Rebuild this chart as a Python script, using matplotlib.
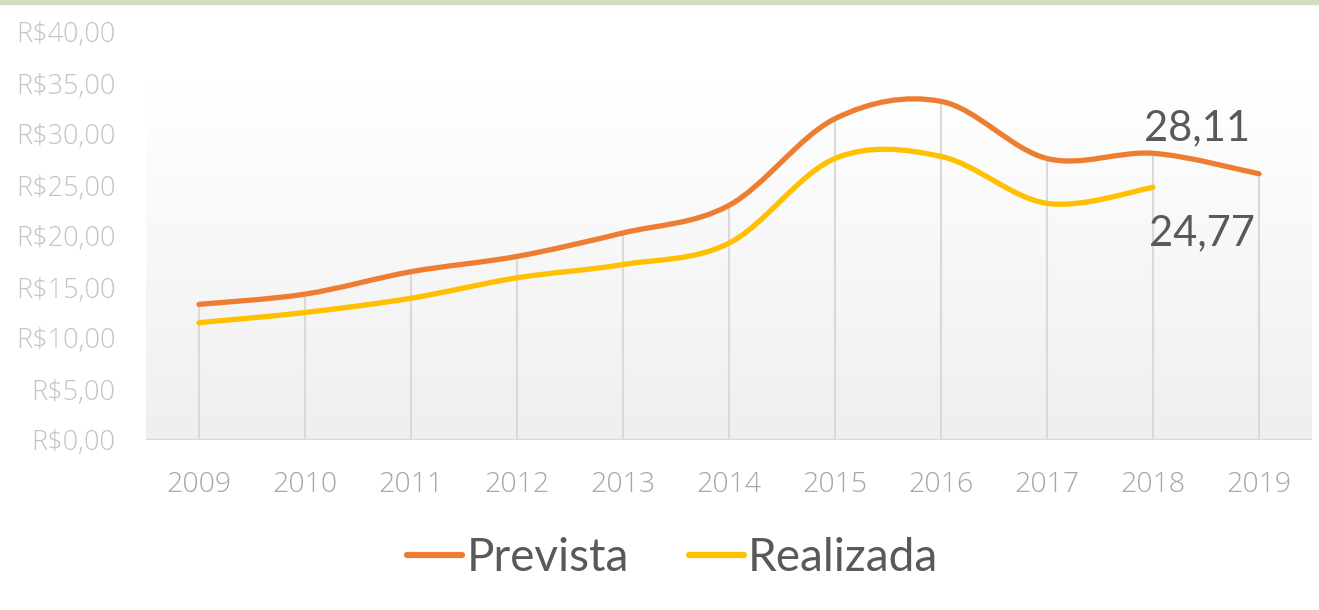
import numpy as np
import matplotlib.pyplot as plt
from matplotlib.path import Path
from matplotlib.patches import PathPatch, Rectangle
from matplotlib.lines import Line2D

anos = [2009, 2010, 2011, 2012, 2013, 2014, 2015, 2016, 2017, 2018, 2019]
prevista = [13.3, 14.3, 16.5, 18.0, 20.3, 23.0, 31.5, 33.2, 27.6, 28.11, 26.1]
anos_real = [2009, 2010, 2011, 2012, 2013, 2014, 2015, 2016, 2017, 2018]
realizada = [11.5, 12.5, 13.9, 15.9, 17.2, 19.3, 27.6, 27.8, 23.2, 24.77]
yticks = [0, 5, 10, 15, 20, 25, 30, 35, 40]

LARANJA = "#ED7D31"
AMARELO = "#FFC000"
FONTE = "Lato"
FONTE_EIXO = "Open Sans"


def smooth_path(xs, ys):
    # bezier parecido com a linha suavizada do excel (catmull-rom)
    pts = np.column_stack([xs, ys]).astype(float)
    n = len(pts)
    verts = [pts[0]]
    codes = [Path.MOVETO]
    for i in range(n - 1):
        p0 = pts[i - 1] if i > 0 else pts[i]
        p1 = pts[i]
        p2 = pts[i + 1]
        p3 = pts[i + 2] if i + 2 < n else pts[i + 1]
        c1 = p1 + (p2 - p0) / 6
        c2 = p2 - (p3 - p1) / 6
        verts += [c1, c2, p2]
        codes += [Path.CURVE4] * 3
    return Path(verts, codes)


fig = plt.figure(figsize=(13.19, 6.10), dpi=100)
fig.patches.append(Rectangle((0, 0.993), 1, 0.007, transform=fig.transFigure,
                             color="#D3DEBF", zorder=0))

ax = fig.add_axes([146 / 1319, 1 - 440 / 610, (1312 - 146) / 1319, (440 - 32) / 610])
ax.set_xlim(2008.5, 2019.5)
ax.set_ylim(0, 40)

# fundo com degradê da área de plotagem
grad = np.linspace(0, 1, 256).reshape(-1, 1)
ax.imshow(grad, extent=(2008.5, 2019.5, 0, 34.8), aspect="auto", origin="upper",
          cmap=plt.matplotlib.colors.LinearSegmentedColormap.from_list("g", ["#FFFFFF", "#EFEFEF"]),
          zorder=0)

# linhas de projeção
topo = [max(p, r) for p, r in zip(prevista, realizada + [0])]
ax.vlines(anos, 0, topo, colors="#D9D9D9", linewidth=1.5, zorder=1)
ax.axhline(0, color="#D9D9D9", linewidth=2.5, zorder=2)

ax.add_patch(PathPatch(smooth_path(anos, prevista), fill=False, edgecolor=LARANJA,
                       linewidth=3.8, capstyle="round", zorder=3))
ax.add_patch(PathPatch(smooth_path(anos_real, realizada), fill=False, edgecolor=AMARELO,
                       linewidth=3.8, capstyle="round", zorder=3))

ax.annotate("28,11", (anos[9], prevista[9]), xytext=(32, 18), textcoords="offset points",
            ha="center", va="center", fontsize=30, color="#595959", family=FONTE)
ax.annotate("24,77", (anos_real[-1], realizada[-1]), xytext=(35, -33), textcoords="offset points",
            ha="center", va="center", fontsize=30, color="#595959", family=FONTE)

for s in ax.spines.values():
    s.set_visible(False)
ax.set_xticks(anos)
ax.set_xticklabels([str(a) for a in anos], fontsize=20.5, color="#A6A6A6",
                   family=FONTE_EIXO, fontweight="light")
ax.set_yticks(yticks)
ax.set_yticklabels(["R$%d,00" % v for v in yticks], fontsize=19.5, color="#C4C4C4",
                   family=FONTE_EIXO, fontweight="light")
ax.tick_params(length=0)
ax.tick_params(axis="x", pad=22)
ax.tick_params(axis="y", pad=22)

handles = [Line2D([], [], color=LARANJA, linewidth=4.5, solid_capstyle="round"),
           Line2D([], [], color=AMARELO, linewidth=4.5, solid_capstyle="round")]
fig.legend(handles, ["Prevista", "Realizada"], loc="center", bbox_to_anchor=(0.51, 0.085),
           ncol=2, frameon=False, handlelength=1.2, handletextpad=0.1, columnspacing=1.3,
           prop={"family": FONTE, "size": 33}, labelcolor="#595959")

fig.savefig("out.png", dpi=100)
